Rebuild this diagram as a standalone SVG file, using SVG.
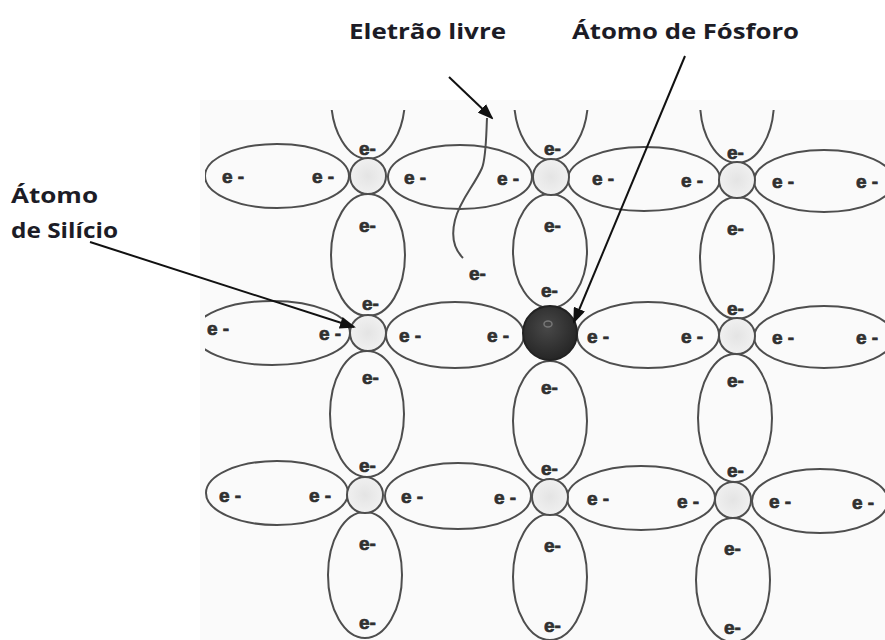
<svg xmlns="http://www.w3.org/2000/svg" width="885" height="640" viewBox="0 0 885 640">
  <defs>
    <style>
      .bond { fill: none; stroke: #4e4e4e; stroke-width: 2; }
      .si { fill: url(#siFill); stroke: #4e4e4e; stroke-width: 2; }
      .el { font-family: "Liberation Sans", Arial, sans-serif; font-weight: bold; font-size: 19px; fill: #303030; stroke: #303030; stroke-width: 0.7; }
      .label { font-family: "Open Sans", "Liberation Sans", sans-serif; font-weight: 700; font-size: 22px; fill: #1c1c26; }
      .arrow { fill: none; stroke: #111; stroke-width: 2; }
    </style>
    <radialGradient id="siFill" cx="0.5" cy="0.5" r="0.5">
      <stop offset="0" stop-color="#e4e4e4"/>
      <stop offset="1" stop-color="#f0f0f0"/>
    </radialGradient>
    <radialGradient id="pFill" cx="0.45" cy="0.4" r="0.6">
      <stop offset="0" stop-color="#484848"/>
      <stop offset="1" stop-color="#262626"/>
    </radialGradient>
    <marker id="head" markerWidth="16" markerHeight="12" refX="14" refY="6" orient="auto" markerUnits="userSpaceOnUse">
      <path d="M0,0 L16,6 L0,12 Z" fill="#111"/>
    </marker>
    <clipPath id="lattice">
      <rect x="205" y="110" width="680" height="530"/>
    </clipPath>
  </defs>

  <rect width="885" height="640" fill="#ffffff"/>
  <rect x="200" y="100" width="685" height="540" fill="#fafafa"/>

  <!-- covalent bond orbitals -->
  <g id="bonds" clip-path="url(#lattice)">
    <!-- top partial orbitals -->
    <ellipse class="bond" cx="368" cy="97" rx="37" ry="62"/>
    <ellipse class="bond" cx="551" cy="98" rx="37" ry="62"/>
    <ellipse class="bond" cx="737" cy="101" rx="37" ry="62"/>
    <!-- row 1 horizontal -->
    <ellipse class="bond" cx="277" cy="176" rx="72" ry="32"/>
    <ellipse class="bond" cx="460" cy="177" rx="72" ry="32"/>
    <ellipse class="bond" cx="644" cy="179" rx="76" ry="32"/>
    <ellipse class="bond" cx="824" cy="181" rx="70" ry="31"/>
    <!-- row 1 to row 2 vertical -->
    <ellipse class="bond" cx="368" cy="255" rx="37" ry="61"/>
    <ellipse class="bond" cx="550" cy="251" rx="37" ry="57"/>
    <ellipse class="bond" cx="737" cy="258" rx="37" ry="61"/>
    <!-- row 2 horizontal -->
    <ellipse class="bond" cx="272" cy="333" rx="78" ry="32"/>
    <ellipse class="bond" cx="455" cy="335" rx="69" ry="33"/>
    <ellipse class="bond" cx="648" cy="335" rx="71" ry="33"/>
    <ellipse class="bond" cx="824" cy="337" rx="70" ry="31"/>
    <!-- row 2 to row 3 vertical -->
    <ellipse class="bond" cx="367" cy="414" rx="37" ry="63"/>
    <ellipse class="bond" cx="550" cy="421" rx="37" ry="60"/>
    <ellipse class="bond" cx="735" cy="418" rx="37" ry="64"/>
    <!-- row 3 horizontal -->
    <ellipse class="bond" cx="277" cy="493" rx="71" ry="32"/>
    <ellipse class="bond" cx="458" cy="496" rx="73" ry="33"/>
    <ellipse class="bond" cx="641" cy="498" rx="74" ry="32"/>
    <ellipse class="bond" cx="820" cy="501" rx="68" ry="32"/>
    <!-- bottom partial orbitals -->
    <ellipse class="bond" cx="365" cy="575" rx="37" ry="63"/>
    <ellipse class="bond" cx="550" cy="577" rx="37" ry="63"/>
    <ellipse class="bond" cx="733" cy="580" rx="37" ry="62"/>
  </g>

  <!-- silicon atoms -->
  <g id="si-11"><circle class="si" cx="368" cy="176" r="18"/></g>
  <g id="si-12"><circle class="si" cx="551" cy="177" r="18"/></g>
  <g id="si-13"><circle class="si" cx="737" cy="180" r="18"/></g>
  <g id="si-21"><circle class="si" cx="368" cy="333" r="18"/></g>
  <g id="si-23"><circle class="si" cx="737" cy="336" r="18"/></g>
  <g id="si-31"><circle class="si" cx="365" cy="495" r="18"/></g>
  <g id="si-32"><circle class="si" cx="550" cy="497" r="18"/></g>
  <g id="si-33"><circle class="si" cx="733" cy="500" r="18"/></g>

  <!-- phosphorus atom -->
  <g id="phosphorus">
    <circle cx="550" cy="333" r="27" fill="url(#pFill)" stroke="#222" stroke-width="2"/>
    <ellipse cx="548" cy="324" rx="4" ry="3" fill="none" stroke="#777" stroke-width="1.5"/>
  </g>

  <!-- bound electrons -->
  <g id="electrons">
    <!-- row 1 -->
    <text class="el" x="222" y="183">e -</text>
    <text class="el" x="312" y="183">e -</text>
    <text class="el" x="404" y="184">e -</text>
    <text class="el" x="497" y="185">e -</text>
    <text class="el" x="592" y="185">e -</text>
    <text class="el" x="681" y="187">e -</text>
    <text class="el" x="772" y="188">e -</text>
    <text class="el" x="856" y="188">e -</text>
    <text class="el" x="359" y="155">e-</text>
    <text class="el" x="544" y="155">e-</text>
    <text class="el" x="727" y="159">e-</text>
    <text class="el" x="359" y="232">e-</text>
    <text class="el" x="544" y="232">e-</text>
    <text class="el" x="727" y="235">e-</text>
    <!-- row 2 -->
    <text class="el" x="362" y="310">e-</text>
    <text class="el" x="541" y="297">e-</text>
    <text class="el" x="727" y="315">e-</text>
    <text class="el" x="207" y="335">e -</text>
    <text class="el" x="319" y="340">e -</text>
    <text class="el" x="399" y="342">e -</text>
    <text class="el" x="487" y="342">e -</text>
    <text class="el" x="587" y="343">e -</text>
    <text class="el" x="681" y="343">e -</text>
    <text class="el" x="772" y="344">e -</text>
    <text class="el" x="856" y="344">e -</text>
    <text class="el" x="362" y="384">e-</text>
    <text class="el" x="541" y="394">e-</text>
    <text class="el" x="727" y="387">e-</text>
    <!-- row 3 -->
    <text class="el" x="359" y="472">e-</text>
    <text class="el" x="541" y="475">e-</text>
    <text class="el" x="727" y="477">e-</text>
    <text class="el" x="219" y="502">e -</text>
    <text class="el" x="309" y="502">e -</text>
    <text class="el" x="401" y="503">e -</text>
    <text class="el" x="494" y="504">e -</text>
    <text class="el" x="587" y="505">e -</text>
    <text class="el" x="677" y="508">e -</text>
    <text class="el" x="769" y="508">e -</text>
    <text class="el" x="852" y="509">e -</text>
    <text class="el" x="359" y="550">e-</text>
    <text class="el" x="544" y="552">e-</text>
    <text class="el" x="724" y="555">e-</text>
    <text class="el" x="359" y="629">e-</text>
    <text class="el" x="544" y="632">e-</text>
    <text class="el" x="724" y="634">e-</text>
  </g>

  <!-- free electron and its path -->
  <g id="free-electron">
    <path class="bond" d="M487,118 C486,140 486,158 482,168 C474,186 460,200 455,220 C451,236 453,248 463,258"/>
    <text class="el" x="469" y="280">e-</text>
  </g>

  <!-- labels -->
  <g id="label-eletrao"><text class="label" x="349" y="39" textLength="157" lengthAdjust="spacingAndGlyphs">Eletrão livre</text></g>
  <g id="label-fosforo"><text class="label" x="572" y="39" textLength="227" lengthAdjust="spacingAndGlyphs">Átomo de Fósforo</text></g>
  <g id="label-silicio">
    <text class="label" x="11" y="203" textLength="87" lengthAdjust="spacingAndGlyphs">Átomo</text>
    <text class="label" x="11" y="238" textLength="107" lengthAdjust="spacingAndGlyphs">de Silício</text>
  </g>

  <!-- pointer arrows -->
  <g id="connectors">
    <line class="arrow" x1="449" y1="77" x2="492" y2="118" marker-end="url(#head)"/>
    <line class="arrow" x1="685" y1="56" x2="574" y2="322" marker-end="url(#head)"/>
    <line class="arrow" x1="90" y1="242" x2="354" y2="327" marker-end="url(#head)"/>
  </g>
</svg>
